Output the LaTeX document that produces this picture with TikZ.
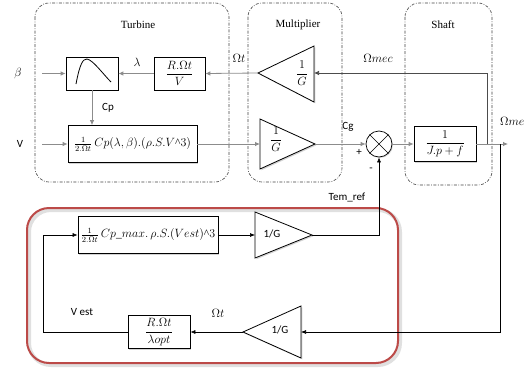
\documentclass[tikz,border=0pt]{standalone}
\usepackage{fontspec}
\setmainfont{Liberation Serif}
\newfontfamily\labelfont{Carlito}
\usetikzlibrary{arrows.meta,shadows}
\definecolor{redbox}{RGB}{188,74,72}
\begin{document}
\begin{tikzpicture}[x=1pt,y=-1pt,
  grp/.style={draw=black!75, dash pattern=on 3pt off 1.5pt on 0.8pt off 1.5pt, rounded corners=14pt, line width=0.6pt},
  blk/.style={draw=black, fill=white, line width=0.7pt, inner sep=1pt,
    drop shadow={shadow xshift=1.3pt, shadow yshift=-1.3pt, opacity=0.35}},
  tri/.style={draw=black, fill=white, line width=0.8pt, line join=miter,
    drop shadow={shadow xshift=1.3pt, shadow yshift=-1.3pt, opacity=0.35}},
  garrow/.style={draw=black!45, line width=0.8pt, -{Latex[length=5pt,width=4.5pt]}},
  darrow/.style={draw=black!70, line width=0.7pt, -{Latex[length=5pt,width=4.5pt]}},
  barrow/.style={draw=black, line width=0.6pt, -{Latex[length=5pt,width=4pt]}},
  title/.style={font=\fontsize{11}{13}\selectfont},
  lab/.style={font=\labelfont\fontsize{11}{13}\selectfont, inner sep=0pt},
  mlab/.style={font=\fontsize{11.5}{13}\selectfont, inner sep=0pt},
  mtxt/.style={font=\fontsize{11.5}{13}\selectfont},
]
\useasboundingbox (0,0) rectangle (525,367);

% group frames
\draw[grp] (35,3) rectangle (229,182);
\draw[grp] (248,3) rectangle (342,182);
\draw[grp] (405,3) rectangle (492,185);
\node[title] (tturb) at (138,25) {Turbine};
\node[title] (tmult) at (298,25) {Multiplier};
\node[title] (tshaft) at (443,25) {Shaft};

% turbine
\node[blk, minimum width=52, minimum height=33] (cpc) at (92,73.5) {};
\draw[line width=0.8pt] (76,84) .. controls (80,63) and (83,59) .. (87,59)
  .. controls (93,60) and (103,74) .. (111,82);
\node[blk, mtxt, minimum width=51, minimum height=33] (rat) at (179.5,73.5)
  {$\displaystyle\frac{R.\Omega t}{V}$};
\node[blk, mtxt, minimum width=129, minimum height=37] (pw) at (132.5,144)
  {$\frac{1}{2.\Omega t}\,Cp(\lambda,\beta).(\rho.S.V\mbox{\textasciicircum}3)$};

\node[mlab] (beta) at (18,73) {$\beta$};
\coordinate (bin) at (42,73.5);
\draw[garrow] (bin) -- (cpc.west);
\node[mlab] (lam) at (137,62) {$\lambda$};
\draw[garrow] (rat.west) -- (cpc.east);
\draw[garrow] (cpc.south) -- (cpc.south |- pw.north);
\node[lab] (cp) at (108,108) {Cp};
\node[lab] (vlab) at (20,144) {V};
\coordinate (vin) at (42,144);
\draw[garrow] (vin) -- (pw.west);

% multiplier
\coordinate (g1t) at (258,73);
\coordinate (g1b) at (314,73);
\draw[tri] (258,73) -- (314,46) -- (314,102) -- cycle;
\node[mtxt] (g1) at (302,73) {$\displaystyle\frac{1}{G}$};
\draw[garrow] (g1t) -- (rat.east);
\node[mlab] (omt) at (239,58) {$\Omega t$};

\coordinate (g2b) at (260,144);
\coordinate (g2t) at (315,144);
\draw[tri] (260,119) -- (315,144) -- (260,169) -- cycle;
\node[mtxt] (g2) at (276,139) {$\displaystyle\frac{1}{G}$};
\draw[garrow] (pw.east) -- (g2b);

% sum
\node[circle, draw, fill=white, minimum size=26, inner sep=0pt, line width=0.7pt,
  drop shadow={shadow xshift=1pt, shadow yshift=-1pt, opacity=0.3}] (sum) at (379,144) {};
\draw[line width=0.6pt] (sum.north west) -- (sum.south east);
\draw[line width=0.6pt] (sum.north east) -- (sum.south west);
\draw[garrow] (g2t) -- (sum.west);
\node[lab] (cg) at (348,127) {Cg};
\node[lab] (plus) at (359,152) {+};
\node[lab] (minus) at (371,170) {-};

% shaft
\node[blk, mtxt, minimum width=62, minimum height=35] (sh) at (445,144)
  {$\displaystyle\frac{1}{J.p+f}$};
\draw[garrow] (sum.east) -- (sh.west);
\coordinate (out) at (508,144);
\draw[garrow] (sh.east) -- (out);
\node[mlab, anchor=west] (ome) at (500,121) {$\Omega me$};
\coordinate (tap1) at (487,144);
\coordinate (tap1u) at (487,73);
\draw[darrow] (tap1) -- (tap1u) -- (g1b);
\node[mlab] (omec) at (378,58) {$\Omega mec$};

% control loop
\draw[black, opacity=0.12, line width=4pt, rounded corners=22pt] (29,210) rectangle (400,365);
\draw[redbox, line width=2pt, rounded corners=22pt] (27,208) rectangle (398,363);

\node[blk, mtxt, minimum width=140, minimum height=37] (ctl) at (148,235)
  {$\frac{1}{2.\Omega t}\,Cp\_max.\,\rho.S.(Vest)\mbox{\textasciicircum}3$};
\coordinate (g3b) at (255,235);
\coordinate (g3t) at (312,235);
\draw[tri] (255,212) -- (312,235) -- (255,258) -- cycle;
\node[lab] (g3) at (272,234) {1/G};
\draw[barrow] (ctl.east) -- (g3b);
\coordinate (tc) at (379,235);
\draw[barrow] (g3t) -- (tc) -- (sum.south);
\node[lab] (tem) at (347,197) {Tem\_ref};

\coordinate (tap2) at (500,144);
\coordinate (tap2d) at (500,332);
\coordinate (g4b) at (301,332);
\coordinate (g4t) at (243,332);
\draw[tri] (301,306) -- (243,332) -- (301,358) -- cycle;
\node[lab] (g4) at (280,330) {1/G};
\draw[barrow] (tap2) -- (tap2d) -- (g4b);

\node[blk, mtxt, minimum width=62, minimum height=33] (lop) at (159,332)
  {$\displaystyle\frac{R.\Omega t}{\lambda opt}$};
\draw[barrow] (g4t) -- (lop.east);
\node[mlab] (omt2) at (218,313) {$\Omega t$};
\coordinate (c1) at (43,332);
\coordinate (c2) at (43,235);
\draw[barrow] (lop.west) -- (c1) -- (c2) -- (ctl.west);
\node[lab] (vest) at (82,312) {V est};
\end{tikzpicture}
\end{document}
